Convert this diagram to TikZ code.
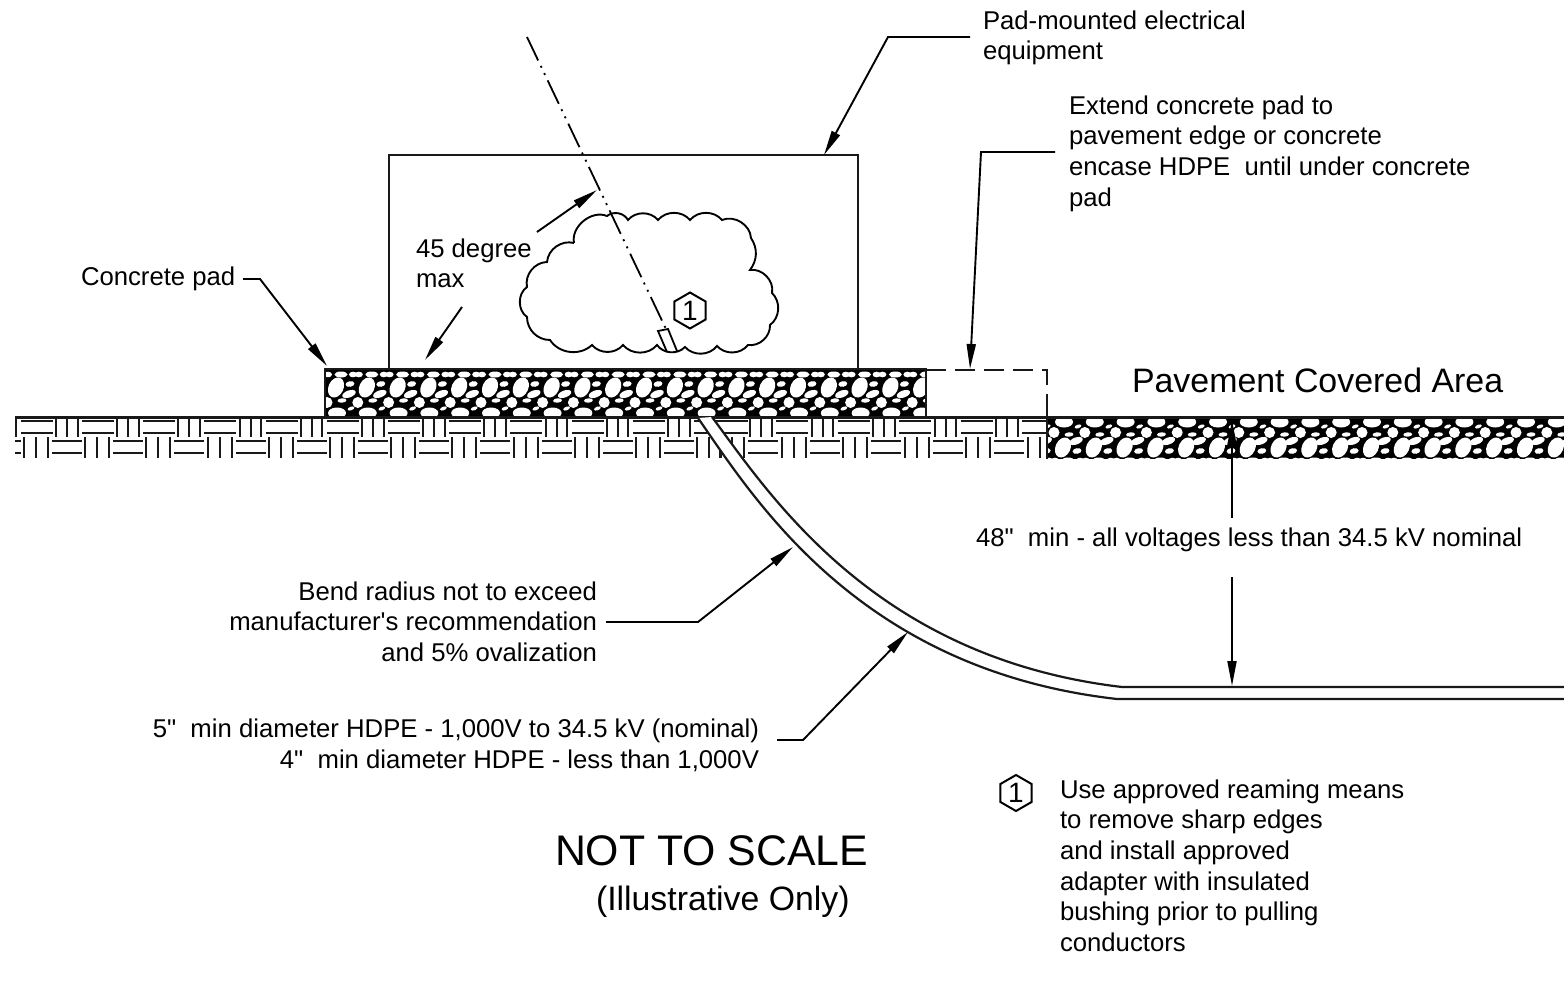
\documentclass[tikz,border=0pt]{standalone}
\usepackage{fontspec}
\setmainfont{Liberation Sans}[Ligatures=TeXOff]
\usetikzlibrary{arrows.meta,shapes.geometric}
\newcommand\stn[5]{\fill[white,shift={({#1},{#2})},rotate=#5] (0,0) ellipse [x radius=#3pt,y radius=#4pt];}
\newcommand\stonecell[3]{%
 \stn{#1+11}{#2+#3*18.5}{10.5}{7.5}{65}
 \stn{#1+24}{#2+#3*25}{7}{3.5}{20}
 \stn{#1+3}{#2+#3*5.5}{4}{2.8}{0}
 \stn{#1+16}{#2+#3*5.5}{6.5}{3}{0}
 \stn{#1+28}{#2+#3*5.5}{4}{2.8}{0}
 \stn{#1+25}{#2+#3*15}{4.5}{2.8}{10}
 \stn{#1+2}{#2+#3*33.5}{5.5}{5.5}{0}
 \stn{#1+17}{#2+#3*31.5}{4.5}{2.2}{5}
 \stn{#1+12}{#2+#3*44}{9}{5.5}{0}
 \stn{#1+26}{#2+#3*39.5}{3.5}{1.8}{20}
}
\newcommand\upgroup[1]{%
 \draw[brick] ({#1},418)--({#1},437) ({#1+11},418)--({#1+11},437) ({#1+21.5},418)--({#1+21.5},437);}
\newcommand\uphoriz[2]{%
 \draw[brick] ({#1},421)--({#2},421) ({#1},433)--({#2},433);}
\newcommand\lowgroup[1]{%
 \draw[brick] ({#1},437)--({#1},458) ({#1+12},437)--({#1+12},458) ({#1+24},437)--({#1+24},458);}
\newcommand\lowhoriz[2]{%
 \draw[brick] ({#1},441)--({#2},441) ({#1},453)--({#2},453);}
\tikzset{
 brick/.style={line width=2pt,black!90},
 outline/.style={line width=2.2pt,black!90},
 lead/.style={line width=1.9pt,black,-{Triangle[length=25pt,width=9pt]}},
 txt/.style={inner sep=0pt,outer sep=0pt,font=\fontsize{25.7}{30.7}\selectfont,text=black},
 hexa/.style={draw,regular polygon,regular polygon sides=6,shape border rotate=30,minimum size=36pt,inner sep=0pt,line width=2pt,font=\fontsize{28}{28}\selectfont},
 centreline/.style={line width=1.8pt,dash pattern=on 26pt off 6pt on 2pt off 6pt on 2pt off 6pt}
}
\begin{document}
\begin{tikzpicture}[x=1pt,y=-1pt]
\useasboundingbox (0,0) rectangle (1564,990);
\fill[white] (0,0) rectangle (1564,990);
% ground bricks
\begin{scope}
\clip (15,417) rectangle (1047,459);
\foreach \k in {-1,...,10}{
  \pgfmathsetmacro\a{56+61.2*\k}
  \upgroup{\a}
  \uphoriz{\a+26}{\a+58}
}
\uphoriz{695}{748}
\foreach \k in {0,...,5}{
  \pgfmathsetmacro\a{750+61.6*\k}
  \upgroup{\a}
  \uphoriz{\a+26}{\a+58}
}
\foreach \k in {-1,...,10}{
  \pgfmathsetmacro\a{24+61.2*\k}
  \lowgroup{\a}
  \lowhoriz{\a+28}{\a+58}
}
\lowgroup{697}
\foreach \k in {0,...,5}{
  \pgfmathsetmacro\a{720+61.6*\k}
  \lowgroup{\a}
  \lowhoriz{\a+28}{\a+58}
}
\end{scope}
\draw[outline] (15,417.5) -- (1047,417.5);
% concrete pad
\begin{scope}
\clip (325,369) rectangle (926,417);
\fill[black] (325,369) rectangle (926,417);
\foreach \k in {-1,...,20}{
  \pgfmathsetmacro\a{325+30.8*\k}
  \stonecell{\a}{369}{1}
}
\end{scope}
\draw[outline] (325,369) rectangle (926,417);
% pavement
\begin{scope}
\clip (1047,417) rectangle (1564,459);
\fill[black] (1047,417) rectangle (1564,459);
\foreach \k in {-1,...,17}{
  \pgfmathsetmacro\a{1052+30.8*\k}
  \stonecell{\a}{466}{-1}
}
\end{scope}
\draw[outline] (1047,417.5) -- (1564,417.5);
\draw[outline] (1047,395) -- (1047,459);
% equipment box
\draw[outline] (389,369) -- (389,155) -- (858,155) -- (858,369);
% dashed pad extension
\draw[outline,dash pattern=on 20pt off 9pt] (926,370) -- (1047,370) -- (1047,395);
% pipe
\fill[white] (712,417) .. controls (770,495) and (875,658) .. (1122,687) -- (1564,687) -- (1564,699) -- (1117,699) .. controls (860,670) and (755,500) .. (698,418) -- cycle;
\draw[outline] (712,417) .. controls (770,495) and (875,658) .. (1122,687) -- (1564,687);
\draw[outline] (698,418) .. controls (755,500) and (860,670) .. (1117,699) -- (1564,699);
% cloud
\draw[line width=1.9pt] (574,243) to[bend left=62] (607,216) to[bend left=50] (628,220) to[bend left=50] (658,220) to[bend left=50] (690,220) to[bend left=50] (722,220) to[bend left=55] (751,238) to[bend left=35] (750,270) to[bend left=55] (772,293) to[bend left=50] (770,325) to[bend left=50] (748,345) to[bend left=50] (717,346) to[bend left=50] (685,347) to[bend left=50] (657,345) to[bend left=50] (623,345) to[bend left=50] (592,345) to[bend left=50] (550,340) to[bend left=45] (527,317) to[bend left=55] (527,287) to[bend left=50] (547,262) to[bend left=50] (574,243);
% adapter and centre line
\coordinate (clTop) at (527,37);
\coordinate (clEnd) at (666,329);
\draw[centreline] (clTop) -- (clEnd);
\draw[line width=1.8pt] (667,352) -- (658,331) -- (668,329) -- (677,351);
\node[hexa] (hexA) at (690,310.5) {1};
\node[hexa] (hexB) at (1016,793) {1};
% text
\node[txt,anchor=north west,align=left] (tEquip) at (983,10.5) {Pad-mounted electrical\\equipment};
\node[txt,anchor=north west,align=left] (tExtend) at (1069,95.5) {Extend concrete pad to\\pavement edge or concrete\\encase HDPE\ \ until under concrete\\pad};
\node[txt,anchor=north west,align=left] (tConc) at (81,267) {Concrete pad};
\node[txt,anchor=north west,align=left] (tDeg) at (416,238.5) {45 degree\\max};
\node[txt,anchor=base west,font=\fontsize{33.9}{33.9}\selectfont] (tPave) at (1132,392) {Pavement Covered Area};
\node[txt,anchor=base west] (tMin) at (976,546) {48"\ \ min - all voltages less than 34.5 kV nominal};
\node[txt,anchor=north east,align=right] (tBend) at (597,581.5) {Bend radius not to exceed\\manufacturer's recommendation\\and 5\% ovalization};
\node[txt,anchor=north east,align=right] (tDia) at (759,719) {5"\ \ min diameter HDPE - 1,000V to 34.5 kV (nominal)\\4"\ \ min diameter HDPE - less than 1,000V};
\node[txt,anchor=base west,font=\fontsize{42.8}{42.8}\selectfont] (tNot) at (555,865) {NOT TO SCALE};
\node[txt,anchor=base west,font=\fontsize{33.8}{33.8}\selectfont] (tIll) at (596,910) {(Illustrative Only)};
\node[txt,anchor=north west,align=left] (tNote) at (1060,779.5) {Use approved reaming means\\to remove sharp edges\\and install approved\\adapter with insulated\\bushing prior to pulling\\conductors};
% leaders
\coordinate (eqS) at (970,37); \coordinate (eqK) at (888,37); \coordinate (eqT) at (824,155);
\draw[lead] (eqS) -- (eqK) -- (eqT);
\coordinate (exS) at (1055,152); \coordinate (exK) at (981,152); \coordinate (exT) at (970,369);
\draw[lead] (exS) -- (exK) -- (exT);
\coordinate (coS) at (243,279); \coordinate (coK) at (260,279); \coordinate (coT) at (327,366);
\draw[lead] (coS) -- (coK) -- (coT);
\coordinate (d1S) at (462,307); \coordinate (d1T) at (425,360);
\draw[lead] (d1S) -- (d1T);
\coordinate (d2S) at (537,232); \coordinate (d2T) at (597,190);
\draw[lead] (d2S) -- (d2T);
\coordinate (beS) at (606,622); \coordinate (beK) at (698,622); \coordinate (beT) at (793,547);
\draw[lead] (beS) -- (beK) -- (beT);
\coordinate (diS) at (777,740); \coordinate (diK) at (803,740); \coordinate (diT) at (908,632);
\draw[lead] (diS) -- (diK) -- (diT);
\coordinate (miA) at (1232,518); \coordinate (miB) at (1232,420);
\draw[lead] (miA) -- (miB);
\coordinate (miC) at (1232,577); \coordinate (miD) at (1232,686);
\draw[lead] (miC) -- (miD);
\end{tikzpicture}
\end{document}
